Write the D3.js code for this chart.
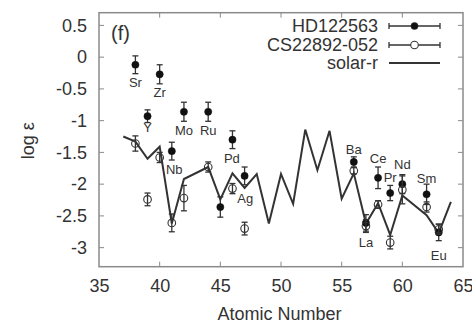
<!DOCTYPE html>
<html>
<head>
<meta charset="utf-8">
<script src="https://cdn.jsdelivr.net/npm/d3@7"></script>
<style>
  body { margin: 0; background: #fff; }
  text { font-family: 'Liberation Sans', Arial, sans-serif; fill: #333; }
</style>
</head>
<body>
<svg id="chart" width="472" height="326"></svg>
<script>
// HD122563 (filled)
var hdZ = [38, 39, 40, 41, 42, 44, 45, 46, 47, 56, 57, 58, 59, 60, 62, 63]
  , hdLogEps = [-0.12, -0.93, -0.27, -1.48, -0.86, -0.86, -2.36, -1.30, -1.87, -1.65, -2.61, -1.90, -2.14, -2.00, -2.16, -2.76]
  , hdErr = [0.14, 0.10, 0.15, 0.14, 0.15, 0.15, 0.16, 0.14, 0.14, 0.08, 0.13, 0.17, 0.12, 0.15, 0.16, 0.13]

// CS22892-052 (open)
var csZ = [38, 39, 40, 41, 42, 44, 46, 47, 56, 57, 58, 59, 60, 62, 63]
  , csLogEps = [-1.36, -2.24, -1.58, -2.61, -2.22, -1.73, -2.07, -2.70, -1.79, -2.66, -2.32, -2.92, -2.09, -2.36, -2.71]
  , csErr = [0.12, 0.10, 0.08, 0.14, 0.20, 0.08, 0.08, 0.10, 0.05, 0.10, 0.06, 0.10, 0.22, 0.08, 0.08]

// solar r-process pattern (scaled)
var solarZ = [37, 38, 39, 40, 41, 42, 44, 45, 46, 47, 48, 49, 50, 51, 52, 53, 54, 55, 56, 57, 58, 59, 60, 62, 63, 64]
  , solarLogEps = [-1.25, -1.33, -1.60, -1.41, -2.62, -1.92, -1.73, -2.24, -1.83, -2.06, -1.84, -2.62, -1.84, -2.31, -1.14, -1.78, -1.16, -2.23, -1.83, -2.62, -2.30, -2.80, -2.18, -2.49, -2.77, -2.28]

// element labels, placed in data coordinates
var labelNames = ['Sr', 'Zr', 'Y', 'Mo', 'Ru', 'Nb', 'Pd', 'Ag', 'Ba', 'Ce', 'Pr', 'Nd', 'Sm', 'La', 'Eu']
  , labelZ = [38, 40, 39, 42, 44, 41.2, 45.95, 47.05, 56, 58, 59, 60, 62, 57, 63]
  , labelLogEps = [-0.40, -0.56, -1.10, -1.16, -1.16, -1.77, -1.59, -2.22, -1.45, -1.59, -1.90, -1.69, -1.91, -2.92, -3.12]

var xTicks = [35, 40, 45, 50, 55, 60, 65]
  , yTicks = [0.5, 0, -0.5, -1, -1.5, -2, -2.5, -3]
  , legendNames = ['HD122563', 'CS22892-052', 'solar-r']

var WIDTH = 472
  , HEIGHT = 326
  , margin = {top: 12.7, right: 9, bottom: 59.3, left: 99}
  , INK = '#333'
  , FRAME = '#8a8a8a'
  , TICK = 5
  , FONT = '18px'

var svg = d3.select('#chart')

var x = d3.scaleLinear()
  .domain([35, 65])
  .range([margin.left, WIDTH - margin.right])

var y = d3.scaleLinear()
  .domain([-3.3, 0.7])
  .range([HEIGHT - margin.bottom, margin.top])

drawFrame()
drawSolar()
drawSeries(hdZ, hdLogEps, hdErr, true)
drawSeries(csZ, csLogEps, csErr, false)
drawLabels()
drawLegend()

function drawFrame() {
  var x0 = x.range()[0]
    , x1 = x.range()[1]
    , y0 = y.range()[0]
    , y1 = y.range()[1]

  var bottom = d3.axisBottom(x)
    .tickValues(xTicks)
    .tickSize(0)
    .tickPadding(13)
    .tickFormat(String)

  var left = d3.axisLeft(y)
    .tickValues(yTicks)
    .tickSize(0)
    .tickPadding(12)
    .tickFormat(String)

  var gx = svg.append('g')
    .attr('transform', 'translate(0,' + y0 + ')')
    .call(bottom)

  var gy = svg.append('g')
    .attr('transform', 'translate(' + x0 + ',0)')
    .call(left)

  gx.select('.domain').remove()
  gy.select('.domain').remove()

  svg.selectAll('.tick text')
    .attr('font-family', "'Liberation Sans', Arial, sans-serif")
    .attr('font-size', FONT)
    .attr('fill', INK)

  // mirrored inward ticks, gnuplot style
  var ticks = svg.append('g')
    .attr('stroke', FRAME)
    .attr('stroke-width', 1)

  xTicks.slice(1, -1).forEach(function(t) {
    ticks.append('line').attr('x1', x(t)).attr('x2', x(t)).attr('y1', y0).attr('y2', y0 - TICK)
    ticks.append('line').attr('x1', x(t)).attr('x2', x(t)).attr('y1', y1).attr('y2', y1 + TICK)
  })

  yTicks.forEach(function(t) {
    ticks.append('line').attr('x1', x0).attr('x2', x0 + TICK).attr('y1', y(t)).attr('y2', y(t))
    ticks.append('line').attr('x1', x1).attr('x2', x1 - TICK).attr('y1', y(t)).attr('y2', y(t))
  })

  svg.append('rect')
    .attr('x', x0)
    .attr('y', y1)
    .attr('width', x1 - x0)
    .attr('height', y0 - y1)
    .attr('fill', 'none')
    .attr('stroke', FRAME)
    .attr('stroke-width', 1.5)

  svg.append('text')
    .attr('x', 279.5)
    .attr('y', 320)
    .attr('text-anchor', 'middle')
    .attr('font-size', FONT)
    .text('Atomic Number')

  svg.append('text')
    .attr('transform', 'translate(34,' + ((y0 + y1) / 2 + 1) + ') rotate(-90)')
    .attr('text-anchor', 'middle')
    .attr('font-size', FONT)
    .text('log ε')

  svg.append('text')
    .attr('x', x0 + 12)
    .attr('y', y1 + 27)
    .attr('font-size', '20px')
    .text('(f)')
}

function drawSolar() {
  var pts = solarZ.map(function(z, i) {
    return [z, solarLogEps[i]]
  })

  var line = d3.line()
    .x(function(d) { return x(d[0]) })
    .y(function(d) { return y(d[1]) })

  svg.append('path')
    .datum(pts)
    .attr('d', line)
    .attr('fill', 'none')
    .attr('stroke', INK)
    .attr('stroke-width', 2)
    .attr('stroke-linejoin', 'miter')
}

function drawSeries(zs, vals, errs, filled) {
  var rows = zs.map(function(z, i) {
    return {z: z, v: vals[i], e: errs[i]}
  })

  var g = svg.append('g')
    .attr('stroke', INK)
    .attr('stroke-width', 1.3)

  var pt = g.selectAll('g')
    .data(rows)
    .enter()
      .append('g')

  pt.append('line')
    .attr('x1', function(d) { return x(d.z) })
    .attr('x2', function(d) { return x(d.z) })
    .attr('y1', function(d) { return y(d.v + d.e) })
    .attr('y2', function(d) { return y(d.v - d.e) })

  pt.append('line')
    .attr('x1', function(d) { return x(d.z) - 3 })
    .attr('x2', function(d) { return x(d.z) + 3 })
    .attr('y1', function(d) { return y(d.v + d.e) })
    .attr('y2', function(d) { return y(d.v + d.e) })

  pt.append('line')
    .attr('x1', function(d) { return x(d.z) - 3 })
    .attr('x2', function(d) { return x(d.z) + 3 })
    .attr('y1', function(d) { return y(d.v - d.e) })
    .attr('y2', function(d) { return y(d.v - d.e) })

  pt.append('circle')
    .attr('cx', function(d) { return x(d.z) })
    .attr('cy', function(d) { return y(d.v) })
    .attr('r', filled ? 3.6 : 3.8)
    .attr('fill', filled ? '#111' : 'none')
    .attr('stroke', filled ? '#111' : INK)
    .attr('stroke-width', filled ? 0.5 : 1.1)
}

function drawLabels() {
  svg.append('g')
    .selectAll('text')
    .data(labelNames)
    .enter()
      .append('text')
      .attr('x', function(d, i) { return x(labelZ[i]) })
      .attr('y', function(d, i) { return y(labelLogEps[i]) })
      .attr('text-anchor', 'middle')
      .attr('dominant-baseline', 'central')
      .attr('font-size', '13px')
      .attr('fill', '#444')
      .text(function(d) { return d })
}

function drawLegend() {
  var textRight = 378
    , sx0 = 389
    , sx1 = 440
    , rows = [26, 45, 63]

  var g = svg.append('g')

  legendNames.forEach(function(name, i) {
    var ry = rows[i]

    g.append('text')
      .attr('x', textRight)
      .attr('y', ry)
      .attr('text-anchor', 'end')
      .attr('dominant-baseline', 'central')
      .attr('font-size', FONT)
      .text(name)

    var s = g.append('g')
      .attr('stroke', INK)

    s.append('line')
      .attr('x1', sx0).attr('x2', sx1)
      .attr('y1', ry).attr('y2', ry)
      .attr('stroke-width', i === 2 ? 2 : 1.3)

    if(i === 2) {
      return
    }

    s.append('line').attr('x1', sx0).attr('x2', sx0).attr('y1', ry - 3).attr('y2', ry + 3).attr('stroke-width', 1.3)
    s.append('line').attr('x1', sx1).attr('x2', sx1).attr('y1', ry - 3).attr('y2', ry + 3).attr('stroke-width', 1.3)

    s.append('circle')
      .attr('cx', (sx0 + sx1) / 2)
      .attr('cy', ry)
      .attr('r', i === 0 ? 3.6 : 3.8)
      .attr('fill', i === 0 ? '#111' : '#fff')
      .attr('stroke-width', i === 0 ? 0.5 : 1.1)
  })
}
</script>
</body>
</html>
